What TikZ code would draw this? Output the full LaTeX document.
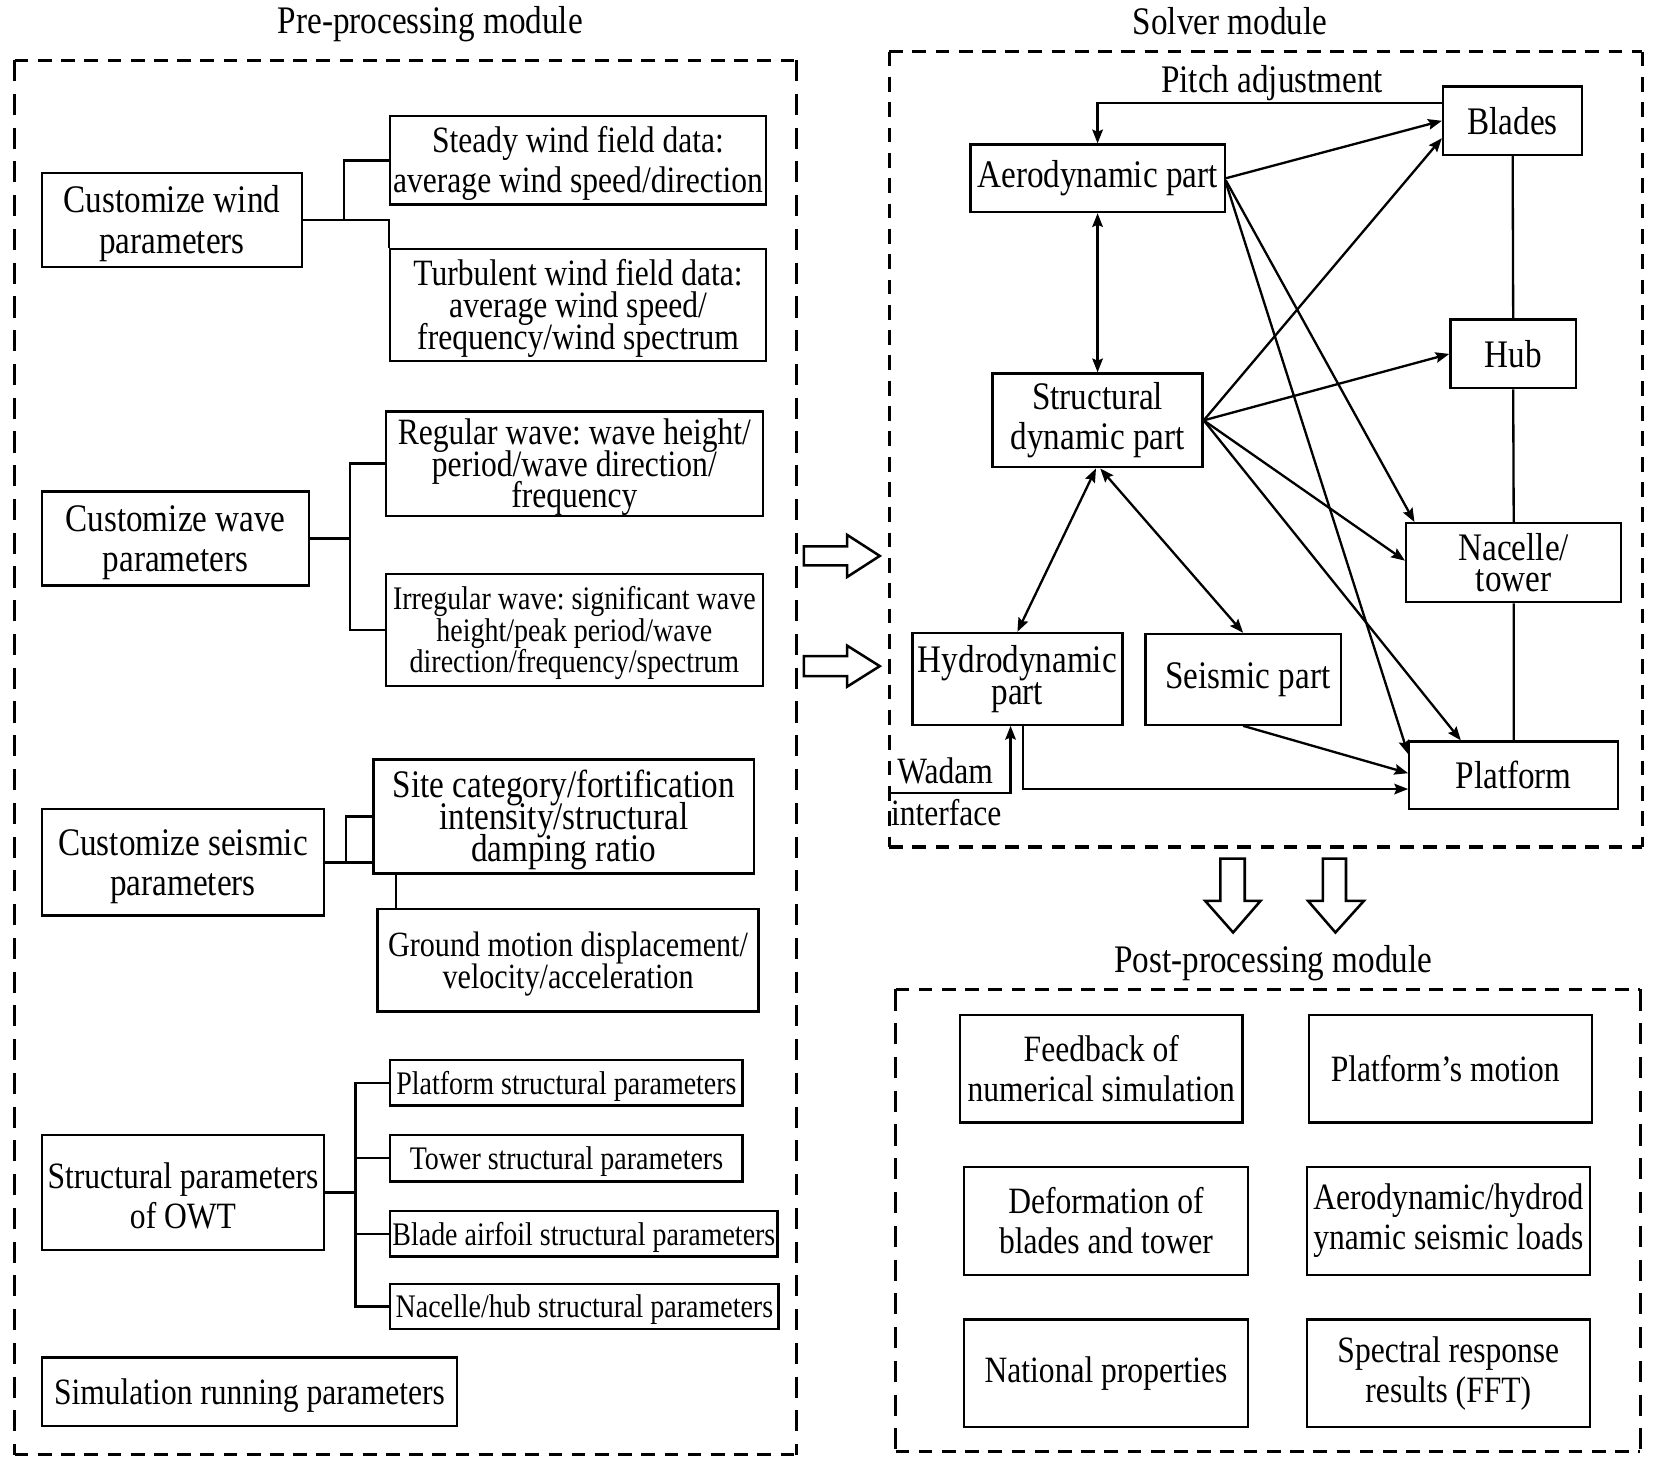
\documentclass[tikz,border=0pt]{standalone}
\usepackage{fontspec}
\setmainfont{Liberation Serif}[FakeStretch=0.85]
\usetikzlibrary{arrows.meta,calc}
\newcommand{\fmain}{\fontsize{17.6}{19}\selectfont}
\newcommand{\fbig}{\fontsize{18.5}{19}\selectfont}
\newcommand{\fbigtight}{\fontsize{18.5}{15}\selectfont}
\newcommand{\ftight}{\fontsize{17.6}{15}\selectfont}
\newcommand{\fsmall}{\fontsize{15.6}{15}\selectfont}
\newcommand{\fground}{\fontsize{16.8}{15}\selectfont}
\newcommand{\ftitle}{\fontsize{18.5}{20}\selectfont}
\newcommand{\dn}{\rule{0pt}{\dimexpr 0.72em+3pt\relax}}
\newcommand{\bx}[7][]{\node[box,#1,minimum width={(#5-#3)*0.5pt},minimum height={(#6-#4)*0.5pt}] (#2) at ({(#3+#5)/2},{(#4+#6)/2}) {#7};}
\begin{document}
\frenchspacing
\lineskiplimit=-100pt
\begin{tikzpicture}[x=0.5pt,y=-0.5pt,
  box/.style={draw,line width=1.1pt,inner sep=0pt,align=center,font=\fmain},
  ttl/.style={inner sep=0pt,font=\ftitle},
  lbl/.style={inner sep=0pt,font=\fmain},
  conn/.style={line width=1.1pt},
  arr/.style={line width=1.1pt,-{Stealth[length=6.5pt,width=5pt,inset=1pt]}},
  darr/.style={line width=1.1pt,{Stealth[length=6.5pt,width=5pt,inset=1pt]}-{Stealth[length=6.5pt,width=5pt,inset=1pt]}},
  hollow/.style={draw,line width=1.2pt,fill=white,line join=miter},
  dashH/.style={line width=1.5pt,dash pattern=on 6.5pt off 4.5pt},
  dashV/.style={line width=1.5pt,dash pattern=on 10pt off 6pt},
  dashVs/.style={line width=1.5pt,dash pattern=on 7pt off 5pt}]
\useasboundingbox (0,0) rectangle (1568,1388);

% titles
\node[ttl] (pretitle) at (408,23) {Pre-processing module};
\node[ttl] (soltitle) at (1166,20) {Solver module};
\node[ttl] (posttitle) at (1207,913) {Post-processing module};

% dashed frames
\draw[dashH] (14,57) -- (755,57);
\draw[dashH] (14,1379) -- (755,1379);
\draw[dashV] (14,57) -- (14,1379);
\draw[dashV] (755,57) -- (755,1379);
\draw[dashH] (843,49) -- (1557,49);
\draw[dashH] (843,803) -- (1557,803);
\draw[dashVs] (843,49) -- (843,803);
\draw[dashVs] (1557,49) -- (1557,803);
\draw[dashH] (849,938) -- (1555,938);
\draw[dashH] (849,1376) -- (1555,1376);
\draw[dashV] (849,938) -- (849,1376);
\draw[dashV] (1555,938) -- (1555,1376);

% pre-processing
\bx[font=\fbig]{wind}{40}{164}{286}{253}{\dn Customize wind\\parameters}
\bx{steady}{370}{110}{726}{194}{\dn Steady wind field data:\\average wind speed/direction}
\bx[font=\ftight]{turb}{370}{236}{726}{342}{\dn Turbulent wind field data:\\average wind speed/\\frequency/wind spectrum}
\bx[font=\fbig]{wave}{40}{466}{293}{555}{\dn Customize wave\\parameters}
\bx[font=\ftight]{regular}{366}{392}{723}{487}{\dn Regular wave: wave height/\\period/wave direction/\\frequency}
\bx[font=\fsmall]{irregular}{366}{544}{723}{650}{\dn Irregular wave: significant wave\\height/peak period/wave\\direction/frequency/spectrum}
\bx[font=\fbig]{seis}{40}{767}{307}{868}{\dn Customize seismic\\parameters}
\bx[font=\fbigtight]{site}{354}{720}{715}{828}{\dn Site category/fortification\\intensity/structural\\damping ratio}
\bx[font=\fground]{ground}{358}{862}{719}{959}{\dn Ground motion displacement/\\velocity/acceleration}
\bx{owt}{40}{1076}{307}{1185}{\dn Structural parameters\\of OWT}
\bx[font=\fsmall]{pp}{370}{1005}{704}{1048}{\dn Platform structural parameters}
\bx[font=\fsmall]{tp}{370}{1076}{704}{1120}{\dn Tower structural parameters}
\bx[font=\fsmall]{bp}{370}{1148}{737}{1191}{\dn Blade airfoil structural parameters}
\bx[font=\fsmall]{np}{370}{1217}{738}{1260}{\dn Nacelle/hub structural parameters}
\bx{sim}{40}{1287}{433}{1352}{\dn Simulation running parameters}

\draw[conn] (wind.east) -- (wind.east -| turb.west) -- (turb.north west);
\draw[conn] ([xshift=19.5pt]wind.east) |- (steady.west);
\draw[conn] (wave.east) -- ([xshift=19pt]wave.east);
\draw[conn] (regular.west) -| ([xshift=19pt]wave.east) |- (irregular.west);
\draw[conn] (seis.east) -- (seis.east -| site.west);
\draw[conn] ([xshift=10pt]seis.east) |- (site.west);
\path ($(site.south west)+(22.5,0)$) coordinate (sg);
\draw[conn] (sg) -- (sg |- ground.north);
\path ($(owt.east)+(29,0)$) coordinate (owtj);
\draw[conn] (owt.east) -- (owtj);
\draw[conn] (pp.west) -| (owtj) |- (np.west);
\draw[conn] (tp.west) -- (tp.west -| owtj);
\draw[conn] (bp.west) -- (bp.west -| owtj);

% hollow arrows
\draw[hollow] (762,518) -- (803,518) -- (803,507) -- (834,527) -- (803,547) -- (803,536) -- (762,536) -- cycle;
\draw[hollow] (762,622) -- (803,622) -- (803,612) -- (834,631.5) -- (803,651) -- (803,641) -- (762,641) -- cycle;
\draw[hollow] (1157,814) -- (1157,854) -- (1142.5,854) -- (1169,884) -- (1195,854) -- (1180,854) -- (1180,814) -- cycle;
\draw[hollow] (1254,814) -- (1254,854) -- (1240,854) -- (1266,884) -- (1293,854) -- (1276,854) -- (1276,814) -- cycle;

% solver
\node[ttl] (pitch) at (1206,79) {Pitch adjustment};
\bx[font=\fbig]{blades}{1368}{82}{1500}{147}{Blades}
\bx[font=\fbig]{aero}{920}{137}{1161}{201}{Aerodynamic part}
\bx[font=\fbig]{hub}{1375}{303}{1494}{368}{Hub}
\bx[font=\fbig]{struct}{941}{354}{1140}{443}{Structural\\dynamic part}
\bx[font=\fbigtight]{nacelle}{1333}{496}{1537}{571}{Nacelle/\\tower}
\bx[font=\fbigtight]{hydro}{865}{600}{1064}{687}{Hydrodynamic\\part}
\bx[font=\fbig]{seismic}{1086}{601}{1271}{687}{\hspace*{4.5pt}Seismic part}
\bx[font=\fbig]{platform}{1336}{703}{1534}{767}{Platform}
\node[lbl] (wadam) at (896,731) {Wadam};
\node[lbl] (iface) at (897,770) {interface};
\coordinate (wadamstart) at (843,751.5);

\draw[arr] ([yshift=-8.25pt]blades.north west) -| (aero.north);
\draw[arr] (aero.east) -- (blades.west);
\draw[arr] ([yshift=-1pt]aero.east) -- ([xshift=4.5pt]nacelle.north west);
\draw[arr] ([yshift=-2pt]aero.east) -- ([yshift=-6.5pt]platform.north west);
\draw[darr] (aero.south) -- (struct.north);
\draw[arr] (struct.east) -- ([yshift=-8.25pt]blades.west);
\draw[arr] (struct.east) -- (hub.west);
\draw[arr] (struct.east) -- ([yshift=1pt]nacelle.west);
\draw[arr] (struct.east) -- ([xshift=25pt]platform.north west);
\draw[darr] ([xshift=-0.75pt]struct.south) -- (hydro.north);
\draw[darr] ([xshift=1.25pt]struct.south) -- (seismic.north);
\draw[arr] (seismic.south) -- ([yshift=1pt]platform.west);
\draw[arr] ([xshift=2.75pt]hydro.south) |- ([yshift=-6.5pt]platform.west);
\draw[arr] (wadamstart) -| ([xshift=-3.25pt]hydro.south);
\draw[conn] (blades.south) -- (hub.north) (hub.south) -- (nacelle.north) (nacelle.south) -- (platform.north);

% post-processing
\bx{fb}{910}{962}{1178}{1064}{Feedback of\\numerical simulation}
\bx{pm}{1241}{962}{1509}{1064}{Platform’s motion\hspace*{5pt}}
\bx{def}{914}{1106}{1183}{1209}{Deformation of\\blades and tower}
\bx{loads}{1239}{1106}{1507}{1209}{Aerodynamic/hydrod\\ynamic seismic loads}
\bx{nat}{914}{1251}{1183}{1353}{National properties}
\bx{spec}{1239}{1251}{1507}{1353}{Spectral response\\results (FFT)}
\end{tikzpicture}
\end{document}
